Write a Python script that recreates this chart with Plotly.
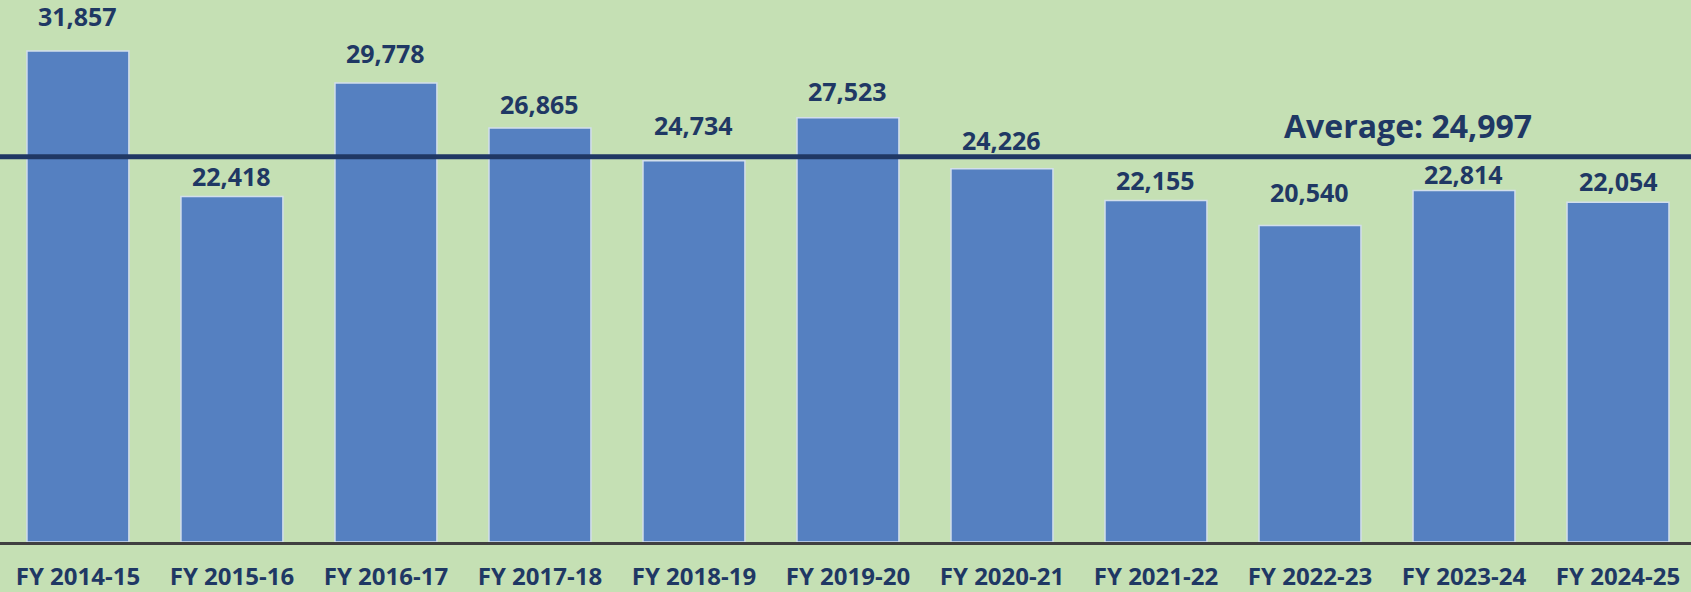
import plotly.graph_objects as go

categories = ["FY 2014-15", "FY 2015-16", "FY 2016-17", "FY 2017-18", "FY 2018-19",
              "FY 2019-20", "FY 2020-21", "FY 2021-22", "FY 2022-23", "FY 2023-24", "FY 2024-25"]
values = [31857, 22418, 29778, 26865, 24734, 27523, 24226, 22155, 20540, 22814, 22054]

# label pixel offsets above bar tops (styling)
label_yshift = [35, 21, 30, 24, 36, 27, 29, 21, 33, 16, 21]

average = sum(values) / len(values)

TEXT = "#1F3864"
FONT = "Open Sans"

fig = go.Figure()
fig.add_trace(go.Bar(
    x=categories, y=values,
    marker=dict(color="#5580C1", line=dict(color="#D2DEEC", width=1.5)),
    showlegend=False, hoverinfo="x+y",
))

for c, v, s in zip(categories, values, label_yshift):
    fig.add_annotation(x=c, y=v, text=f"{v:,}", showarrow=False,
                       xanchor="center", yanchor="middle", yshift=s,
                       font=dict(family=FONT, size=25, color=TEXT, weight="bold"))

fig.add_shape(type="line", xref="paper", x0=0, x1=1, yref="y", y0=average, y1=average,
              line=dict(color="#203864", width=5), layer="above")
fig.add_annotation(xref="paper", x=0.8327, y=average, yshift=31,
                   xanchor="center", yanchor="middle",
                   text=f"Average: {round(average):,}", showarrow=False,
                   font=dict(family=FONT, size=32, color=TEXT, weight="bold"))

fig.update_layout(
    width=1691, height=592,
    margin=dict(l=0, r=0, t=0, b=50),
    paper_bgcolor="#C5E0B4", plot_bgcolor="#C5E0B4",
    bargap=0.338,
    font=dict(family=FONT),
)
fig.update_xaxes(range=[-0.506, 10.474], showline=True, linecolor="#404040", linewidth=3,
                 ticks="", showgrid=False, ticklabelstandoff=11, automargin=False,
                 tickfont=dict(family=FONT, size=24, color=TEXT, weight="bold"))
fig.update_yaxes(range=[0, 35170], visible=False, showgrid=False, zeroline=False,
                 automargin=False)

fig.write_html("out.html")
